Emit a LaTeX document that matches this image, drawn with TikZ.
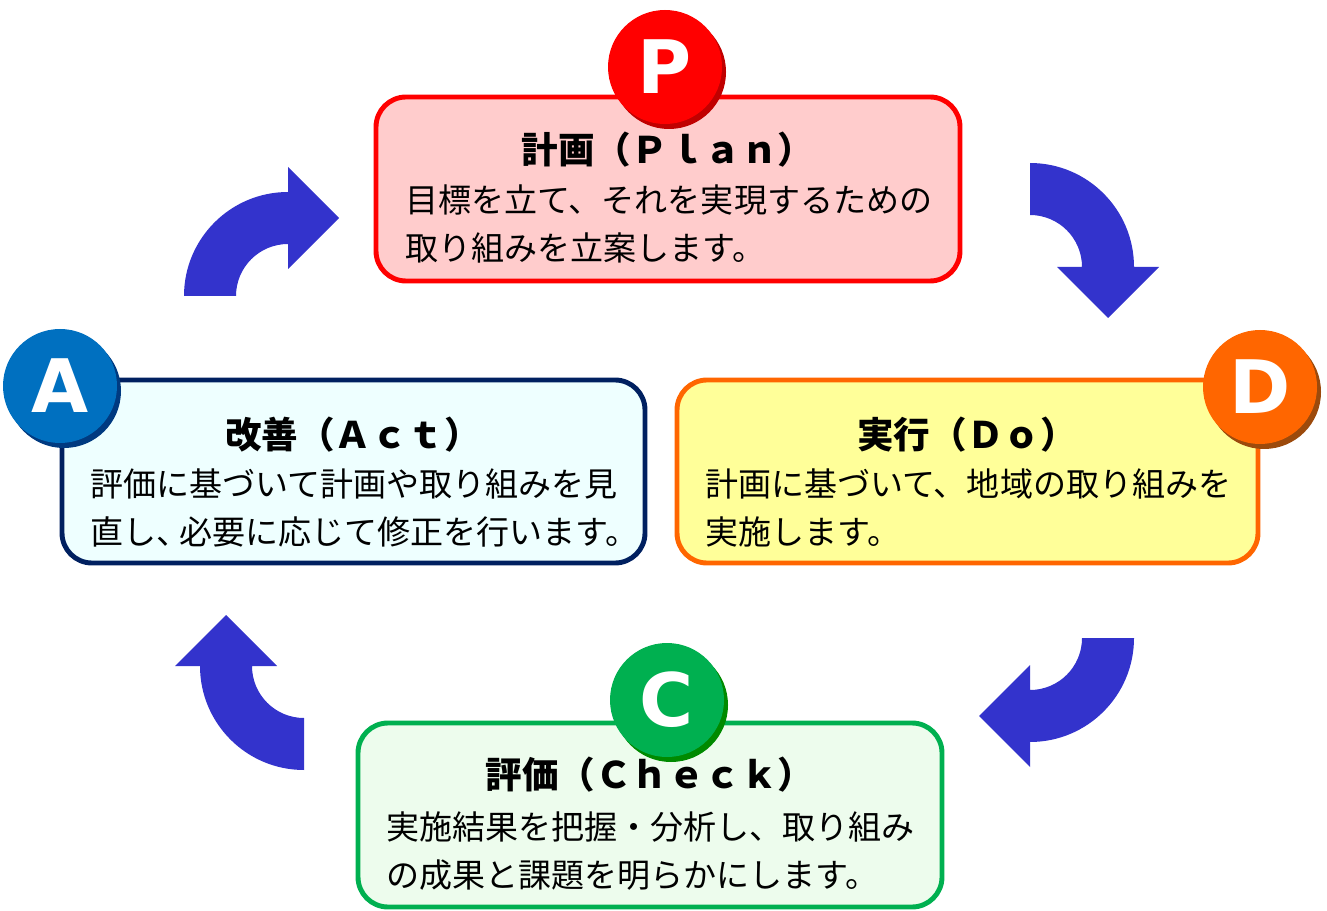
\documentclass[tikz,border=0pt]{standalone}
\usepackage{fontspec}
\setmainfont{Noto Sans CJK JP}
\setsansfont{DejaVu Sans}
\usetikzlibrary{calc}
\definecolor{planred}{HTML}{FF0000}
\definecolor{planshade}{HTML}{C00000}
\definecolor{planfill}{HTML}{FFCCCC}
\definecolor{doorange}{HTML}{FF6600}
\definecolor{doshade}{HTML}{9C4A0C}
\definecolor{dofill}{HTML}{FFFF99}
\definecolor{checkgreen}{HTML}{00B050}
\definecolor{checkshade}{HTML}{008A00}
\definecolor{checkfill}{HTML}{EDFCED}
\definecolor{actblue}{HTML}{0070C0}
\definecolor{actshade}{HTML}{003A80}
\definecolor{actnavy}{HTML}{002060}
\definecolor{actfill}{HTML}{EEFFFF}
\definecolor{arrowblue}{HTML}{3333CC}
\def\turnarrow(#1)(#2){\fill[arrowblue, shift={(#1)}, rotate=#2] (-104,0) arc (180:270:104) -- (0,-129) -- (51,-78) -- (0,-27) -- (0,-52) arc (270:180:52) -- cycle;}
\def\badge(#1)[#2][#3]#4#5{\fill[#3] ($(#1)+(4,5)$) circle (57); \fill[#2] (#1) circle (57); \node[badgetext] (#4) at (#1) {#5};}

\begin{document}
\begin{tikzpicture}[x=0.02cm, y=-0.02cm,
		boxline/.style={line width=2.8pt, rounded corners=0.6cm},
		titletext/.style={inner sep=0, font=\fontsize{20.8}{24}\selectfont\bfseries},
		bodytext/.style={inner sep=0, anchor=west, align=left, font=\fontsize{18.8}{27.8}\selectfont},
		badgetext/.style={inner sep=0, text=white, font=\fontsize{42}{42}\selectfont\sffamily\bfseries}]
			%%%%% START %%%%%
			\useasboundingbox (0,0) rectangle (1327,911);
			
			\turnarrow(288,296)(0)
			\turnarrow(1030,267)(-90)
			\turnarrow(1030,638)(-180)
			\turnarrow(304,666)(-270)
			
			% Plan
			\draw[boxline, draw=planred, fill=planfill] (376,97) rectangle (960,281);
			\badge(665,67)[planred][planshade]{plan badge}{P}
			\node[titletext] (plan title) at (668,150) {計画（Ｐｌａｎ）};
			\node[bodytext] (plan body) at (405,224) {目標を立て、それを実現するための\\取り組みを立案します。};
			
			% Do
			\draw[boxline, draw=doorange, fill=dofill] (677,380) rectangle (1258,563);
			\badge(1260,387)[doorange][doshade]{do badge}{D}
			\node[titletext] (do title) at (967,435) {実行（Ｄｏ）};
			\node[bodytext] (do body) at (705,508) {計画に基づいて、地域の取り組みを\\実施します。};
			
			% Check
			\draw[boxline, draw=checkgreen, fill=checkfill] (358,723) rectangle (942,907);
			\badge(667,700)[checkgreen][checkshade]{check badge}{C}
			\node[titletext] (check title) at (650,775) {評価（Ｃｈｅｃｋ）};
			\node[bodytext] (check body) at (386,851) {実施結果を把握・分析し、取り組み\\の成果と課題を明らかにします。};
			
			% Act
			\draw[boxline, draw=actnavy, fill=actfill] (62,380) rectangle (645,563);
			\badge(60,386)[actblue][actshade]{act badge}{A}
			\node[titletext] (act title) at (353,435) {改善（Ａｃｔ）};
			\node[bodytext] (act body) at (90,508) {評価に基づいて計画や取り組みを見\\直し、\kern-.3em 必要に応じて修正を行います。};
			%%%%% END %%%%%
\end{tikzpicture}
\end{document}
